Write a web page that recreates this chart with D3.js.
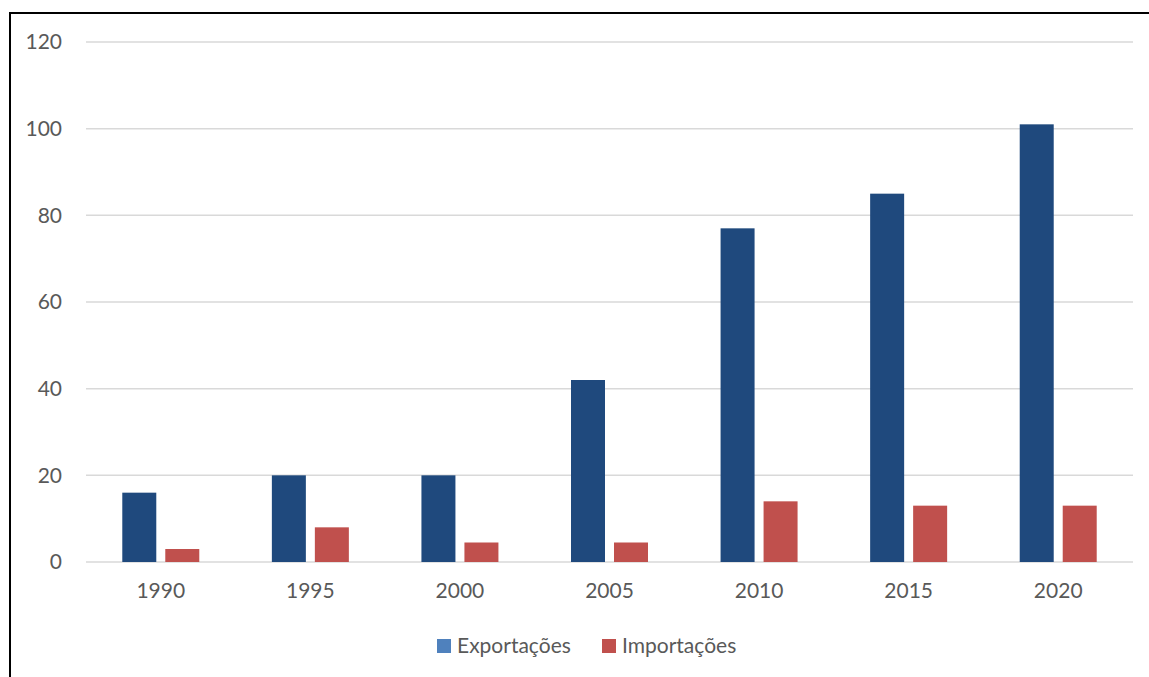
<!DOCTYPE html>
<html>
<head>
<meta charset="utf-8">
<script src="https://cdn.jsdelivr.net/npm/d3@7"></script>
<style>
  body { margin: 0; background: #fff; overflow: hidden; }
  svg { display: block; }
  text { font-family: Lato, "Open Sans", sans-serif; fill: #595959; }
</style>
</head>
<body>
<svg id="chart" width="1149" height="677"></svg>
<script>
var years = ["1990", "1995", "2000", "2005", "2010", "2015", "2020"];
var exportacoes = [16, 20, 20, 42, 77, 85, 101];
var importacoes = [3, 8, 4.5, 4.5, 14, 13, 13];
var seriesNames = ["Exportações", "Importações"];
var yTicks = [0, 20, 40, 60, 80, 100, 120];

var barColors = {"Exportações": "#1F497D", "Importações": "#C0504D"};
var legendColors = {"Exportações": "#4F81BD", "Importações": "#C0504D"};

var svg = d3.select("#chart");

// frame: only the top and left edges show in the picture
svg.append("path")
    .attr("d", "M10,677 V13 H1149")
    .attr("fill", "none")
    .attr("stroke", "#000")
    .attr("stroke-width", 2);

var x0 = d3.scaleBand()
    .domain(years)
    .range([86, 1133]);

var x1 = d3.scaleBand()
    .domain(seriesNames)
    .range([0, x0.bandwidth()])
    .paddingInner(9 / 43)
    .paddingOuter(0.844);

var y = d3.scaleLinear()
    .domain([0, 120])
    .range([562, 42]);

// grid lines
svg.append("g")
    .selectAll("line")
    .data(yTicks)
    .enter().append("line")
    .attr("x1", 86).attr("x2", 1133)
    .attr("y1", function (d) { return y(d); })
    .attr("y2", function (d) { return y(d); })
    .attr("stroke", "#D9D9D9")
    .attr("stroke-width", 1.5);

// y axis labels
var yAxis = svg.append("g")
    .attr("transform", "translate(62,0)")
    .call(d3.axisLeft(y).tickValues(yTicks).tickSize(0).tickPadding(0));
yAxis.select(".domain").remove();
yAxis.selectAll("text")
    .attr("font-size", 21)
    .attr("font-family", "Lato, 'Open Sans', sans-serif")
    .attr("fill", "#595959");

// x axis labels
var xAxis = svg.append("g")
    .attr("transform", "translate(0,562)")
    .call(d3.axisBottom(x0).tickSize(0).tickPadding(21));
xAxis.select(".domain").remove();
xAxis.selectAll("text")
    .attr("font-size", 21)
    .attr("font-family", "Lato, 'Open Sans', sans-serif")
    .attr("fill", "#595959");

var rows = years.map(function (yr, i) {
    return {year: yr, values: [
        {name: "Exportações", value: exportacoes[i]},
        {name: "Importações", value: importacoes[i]}
    ]};
});

svg.append("g")
    .selectAll("g")
    .data(rows)
    .enter().append("g")
    .attr("transform", function (d) { return "translate(" + x0(d.year) + ",0)"; })
    .selectAll("rect")
    .data(function (d) { return d.values; })
    .enter().append("rect")
    .attr("x", function (d) { return x1(d.name); })
    .attr("width", x1.bandwidth())
    .attr("y", function (d) { return y(d.value); })
    .attr("height", function (d) { return y(0) - y(d.value); })
    .attr("fill", function (d) { return barColors[d.name]; });

// legend
var legendX = [437, 602];
var legend = svg.append("g")
    .selectAll("g")
    .data(seriesNames)
    .enter().append("g")
    .attr("transform", function (d, i) { return "translate(" + legendX[i] + ",639)"; });

legend.append("rect")
    .attr("width", 14).attr("height", 14)
    .attr("fill", function (d) { return legendColors[d]; });

legend.append("text")
    .attr("x", 20).attr("y", 14)
    .attr("font-size", 21)
    .text(function (d) { return d; });
</script>
</body>
</html>
